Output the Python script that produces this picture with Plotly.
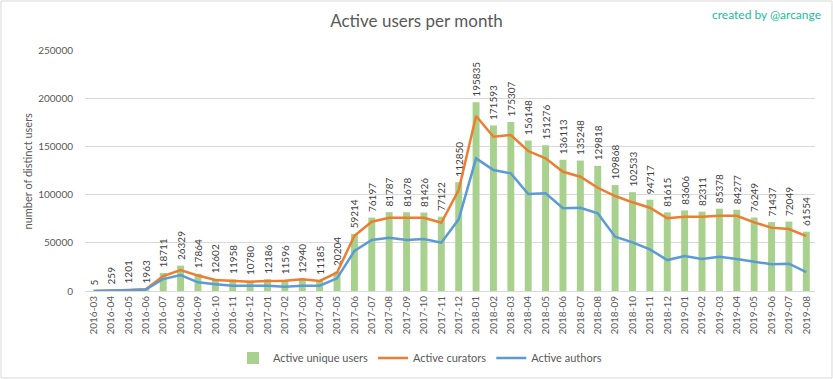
import plotly.graph_objects as go

months = ["2016-03","2016-04","2016-05","2016-06","2016-07","2016-08","2016-09","2016-10","2016-11","2016-12",
          "2017-01","2017-02","2017-03","2017-04","2017-05","2017-06","2017-07","2017-08","2017-09","2017-10","2017-11","2017-12",
          "2018-01","2018-02","2018-03","2018-04","2018-05","2018-06","2018-07","2018-08","2018-09","2018-10","2018-11","2018-12",
          "2019-01","2019-02","2019-03","2019-04","2019-05","2019-06","2019-07","2019-08"]

unique_users = [5, 259, 1201, 1963, 18711, 26329, 17864, 12602, 11958, 10780,
                12186, 11596, 12940, 11185, 20204, 59214, 76197, 81787, 81678, 81426, 77122, 112850,
                195835, 171593, 175307, 156148, 151276, 136113, 135248, 129818, 109868, 102533, 94717, 81615,
                83606, 82311, 85378, 84277, 76249, 71437, 72049, 61554]

curators = [0, 250, 1100, 1800, 15500, 21800, 16000, 11400, 10400, 9600,
            10400, 10700, 12100, 10400, 19000, 57400, 71900, 76000, 76000, 76000, 70800, 104700,
            181500, 160000, 161800, 145200, 137600, 123700, 118500, 107100, 98500, 92000, 86400, 75400,
            77100, 77100, 78100, 78100, 71200, 65600, 64300, 57000]

authors = [0, 200, 800, 1500, 12400, 16600, 9000, 7000, 5500, 5500,
           5500, 4500, 5500, 5500, 13100, 41500, 52900, 55300, 52900, 53900, 50100, 74300,
           137600, 125500, 122000, 100600, 101300, 85800, 86400, 80600, 56300, 50500, 43200, 32100,
           36300, 33200, 35600, 33200, 30400, 27700, 28300, 19700]

FONT = "Lato"
GRAY = "#595959"

fig = go.Figure()
fig.add_trace(go.Bar(
    x=months, y=unique_users, name="Active unique users",
    marker=dict(color="#A9D18E", line=dict(width=0)),
    text=["\u00a0" + str(v) for v in unique_users], textposition="outside", textangle=-90,
    textfont=dict(size=10, color="#404040", family=FONT),
    cliponaxis=False, constraintext="none",
))
fig.add_trace(go.Scatter(
    x=months, y=curators, name="Active curators", mode="lines",
    line=dict(color="#ED7D31", width=2.5),
))
fig.add_trace(go.Scatter(
    x=months, y=authors, name="Active authors", mode="lines",
    line=dict(color="#5B9BD5", width=2.5),
))

fig.update_layout(
    width=833, height=379,
    margin=dict(l=85, r=18, t=50, b=88, autoexpand=False),
    paper_bgcolor="white", plot_bgcolor="white",
    font=dict(family=FONT, color=GRAY, size=11),
    bargap=0.6,
    title=dict(text="Active users per month", x=0.5, xref="container", y=1 - 21 / 379,
               yanchor="middle", xanchor="center",
               font=dict(size=17, color=GRAY, family=FONT)),
    showlegend=True,
    legend=dict(orientation="h", x=(420 - 85) / 730, xanchor="center", y=(291 - 358) / 241,
                yanchor="middle",
                font=dict(size=11, color=GRAY, family=FONT), traceorder="normal",
                itemwidth=30),
    xaxis=dict(type="category", tickangle=-90, showgrid=False, showline=True,
               linecolor="#D9D9D9", linewidth=1, ticks="", automargin=False,
               tickfont=dict(size=10, color=GRAY, family=FONT)),
    yaxis=dict(range=[0, 250000], dtick=50000, tickformat="d", showgrid=True,
               gridcolor="#D9D9D9", gridwidth=1, zeroline=False, showline=False,
               ticks="outside", ticklen=9, tickcolor="rgba(0,0,0,0)", automargin=False,
               tickfont=dict(size=10, color=GRAY, family=FONT)),
)

fig.add_annotation(text="number of distinct users", xref="paper", yref="paper",
                   x=(27 - 85) / 730, y=0.5, xanchor="center", yanchor="middle", textangle=-90,
                   showarrow=False, font=dict(size=11, color=GRAY, family=FONT))

fig.add_annotation(text="created by @arcange", xref="paper", yref="paper",
                   x=(823 - 85) / 730, y=(291 - 14) / 241, xanchor="right", yanchor="middle",
                   showarrow=False, font=dict(size=12, color="#1ABC9C", family=FONT))

fig.add_shape(type="rect", xref="paper", yref="paper",
              x0=(1 - 85) / 730, x1=(832 - 85) / 730, y0=(291 - 378) / 241, y1=(291 - 1) / 241,
              line=dict(color="#D9D9D9", width=1), fillcolor="rgba(0,0,0,0)", layer="below")

fig.write_html("out.html", config={"displayModeBar": False},
               post_script="document.body.style.margin='0';document.body.style.padding='0';")
